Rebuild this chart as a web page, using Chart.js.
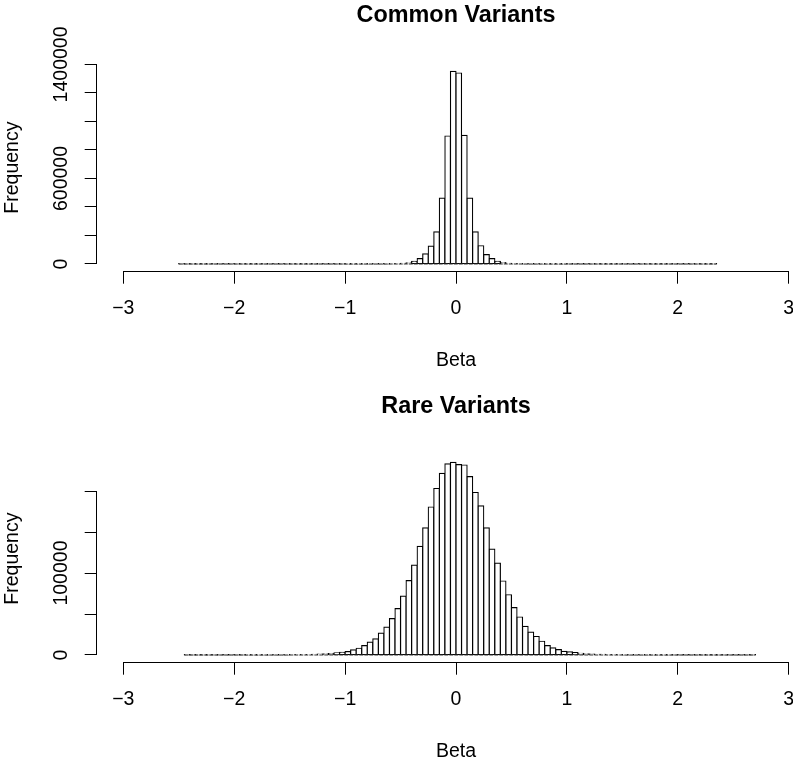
<!DOCTYPE html>
<html>
<head>
<meta charset="utf-8">
<script src="https://cdn.jsdelivr.net/npm/chart.js@4.4.1/dist/chart.umd.min.js"></script>
<style>
  html, body { margin: 0; padding: 0; background: #fff; overflow: hidden; }
  body { width: 793px; height: 764px; position: relative; }
  .panel { position: absolute; left: 0; width: 912px; height: 391px; }
</style>
</head>
<body>
<div class="panel" style="top:0"><canvas id="commonChart"></canvas></div>
<div class="panel" style="top:391px"><canvas id="rareChart"></canvas></div>
<script>
/* ---------- DATA ---------- */
const binWidth = 0.05;
const xLimits = [-3, 3];
const xTicks = [-3, -2, -1, 0, 1, 2, 3];

// Common variants: bins of 0.05 starting at -2.5
const commonStart = -2.5;
const commonCounts = [
  2, 1, 3, 2, 4, 3, 5, 6, 5, 8,
  9, 11, 13, 15, 18, 21, 25, 29, 34, 40,
  47, 55, 65, 77, 90, 106, 125, 148, 175, 207,
  260, 320, 400, 500, 620, 780, 1000, 1350, 1900, 2800,
  4500, 7500, 18800, 37700, 70700, 125000, 226000, 462000, 898000, 1352000,
  1340000, 902000, 462000, 226000, 128000, 66000, 37700, 18800, 9000, 4800,
  2900, 1950, 1400, 1050, 800, 640, 510, 410, 330, 270,
  220, 180, 150, 125, 105, 88, 74, 62, 52, 44,
  37, 31, 26, 22, 19, 16, 13, 11, 9, 8,
  7, 5, 4, 4, 3, 2, 2
];
const commonYTicks = [0, 200000, 400000, 600000, 800000, 1000000, 1200000, 1400000];
const commonYLabels = [0, 600000, 1400000];

// Rare variants: bins of 0.05 starting at -2.45
const rareStart = -2.45;
const rareCounts = [
  3, 4, 6, 8, 10, 12, 15, 19, 24, 29,
  36, 44, 55, 69, 86, 108, 135, 170, 215, 275,
  350, 450, 580, 760, 1000, 1350, 1800, 2500, 3300, 4100,
  6200, 8200, 11500, 15600, 19700, 26700, 34100, 44300, 56600, 71800,
  90700, 109600, 132600, 155200, 180600, 203200, 221700, 233200, 235200, 232300,
  231900, 217600, 198300, 181900, 155200, 129300, 112100, 90300, 73500, 57900,
  46400, 34900, 27900, 22600, 16800, 11500, 8600, 6600, 4500, 3700,
  2900, 2000, 1500, 1150, 870, 660, 510, 400, 310, 245,
  195, 155, 125, 100, 82, 67, 55, 45, 37, 31,
  26, 22, 18, 15, 13, 11, 9, 8, 7, 6,
  5, 4, 3
];
const rareYTicks = [0, 50000, 100000, 150000, 200000];
const rareYLabels = [0, 100000];

/* ---------- STYLE ---------- */
Chart.defaults.font.family = '"Liberation Sans", Arial, Helvetica, sans-serif';
Chart.defaults.color = '#000';

const axisFont = { size: 19.5 };

// R draws the axis line only from first to last tick
const rAxes = {
  id: 'rAxes',
  afterDraw(chart) {
    const ctx = chart.ctx;
    const xs = chart.scales.x, ys = chart.scales.y;
    const a = v => Math.round(v - 0.5) + 0.5;
    ctx.save();
    ctx.strokeStyle = '#000';
    ctx.lineWidth = 1;
    ctx.lineCap = 'square';
    ctx.beginPath();
    ctx.moveTo(a(xs.getPixelForValue(xs.ticks[0].value)), a(xs.top));
    ctx.lineTo(a(xs.getPixelForValue(xs.ticks[xs.ticks.length - 1].value)), a(xs.top));
    ctx.moveTo(a(ys.right), a(ys.getPixelForValue(ys.ticks[0].value)));
    ctx.lineTo(a(ys.right), a(ys.getPixelForValue(ys.ticks[ys.ticks.length - 1].value)));
    ctx.stroke();
    ctx.restore();
  }
};

function makeHistogram(id, title, start, counts, yTicks, yLabels, yLabelPad) {
  const bars = counts.map((c, i) => ({ x: start + binWidth * (i + 0.5), y: c }));
  const baseline = [{ x: start, y: 0 }, { x: start + binWidth * counts.length, y: 0 }];
  const top = Math.max(...counts);
  const xr = xLimits[1] - xLimits[0];

  return new Chart(document.getElementById(id), {
    type: 'bar',
    data: {
      datasets: [
        {
          type: 'bar',
          data: bars,
          backgroundColor: '#fff',
          borderColor: '#000',
          borderWidth: 1.2,
          borderSkipped: false,
          inflateAmount: 0.6,
          barPercentage: 1,
          categoryPercentage: 1,
          order: 1
        },
        {
          // the row of empty bins R outlines along zero
          type: 'line',
          data: baseline,
          borderColor: '#333',
          borderWidth: 1,
          borderDash: [4, 1],
          pointRadius: 0,
          order: 0
        }
      ]
    },
    options: {
      responsive: true,
      maintainAspectRatio: false,
      animation: false,
      layout: { padding: { left: 0, right: 96.7, top: 0, bottom: 0 } },
      plugins: {
        legend: { display: false },
        tooltip: { enabled: false },
        title: {
          display: true,
          text: title,
          fullSize: false,
          color: '#000',
          font: { size: 23.4, weight: 'bold' },
          padding: { top: 2, bottom: 33.5 }
        }
      },
      scales: {
        x: {
          type: 'linear',
          min: xLimits[0] - 0.04 * xr,
          max: xLimits[1] + 0.04 * xr,
          offset: false,
          afterBuildTicks: s => { s.ticks = xTicks.map(v => ({ value: v })); },
          afterFit: s => { s.height = 119.3; },
          border: { display: false },
          grid: { drawOnChartArea: false, drawTicks: true, tickLength: 12, color: '#000', lineWidth: 1, offset: false },
          ticks: {
            autoSkip: false, maxRotation: 0, padding: 13, font: axisFont,
            callback: v => v < 0 ? '\u2212' + (-v) : String(v)
          },
          title: { display: true, text: 'Beta', font: axisFont, padding: { top: 0, bottom: 19 } }
        },
        y: {
          min: -0.04 * top,
          max: 1.04 * top,
          afterBuildTicks: s => { s.ticks = yTicks.map(v => ({ value: v })); },
          afterFit: s => { s.width = 96.7; },
          border: { display: false },
          grid: { drawOnChartArea: false, drawTicks: true, tickLength: 12, color: '#000', lineWidth: 1 },
          ticks: {
            autoSkip: false, minRotation: 90, maxRotation: 90, crossAlign: 'center',
            padding: yLabelPad, font: axisFont,
            callback: v => yLabels.includes(v) ? String(v) : ''
          },
          title: { display: true, text: 'Frequency', font: axisFont, padding: { top: 1, bottom: 0 } }
        }
      }
    },
    plugins: [rAxes]
  });
}

makeHistogram('commonChart', 'Common Variants', commonStart, commonCounts, commonYTicks, commonYLabels, -14.5);
makeHistogram('rareChart', 'Rare Variants', rareStart, rareCounts, rareYTicks, rareYLabels, -9);
</script>
</body>
</html>
